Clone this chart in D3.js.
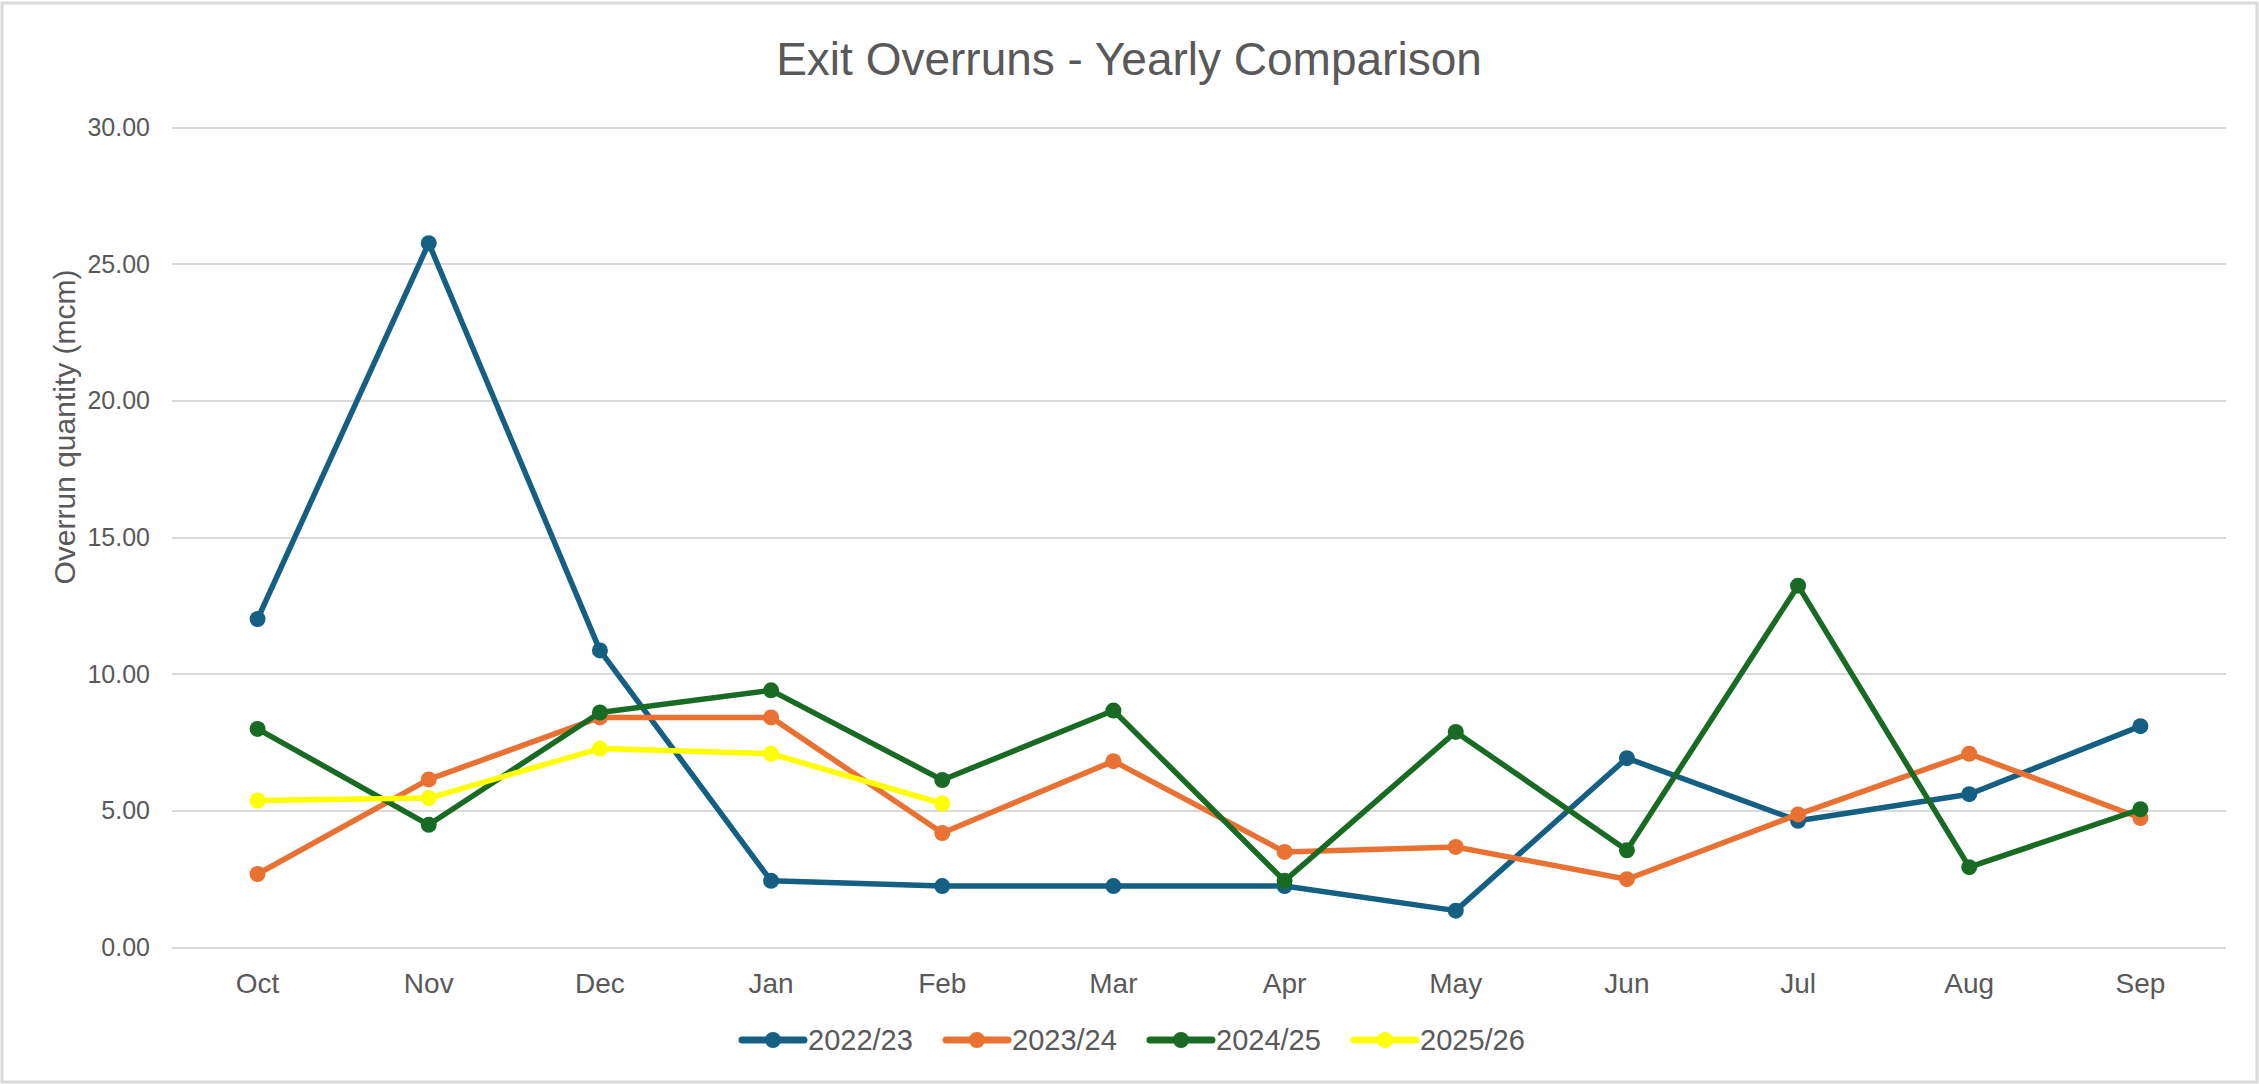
<!DOCTYPE html>
<meta charset="utf-8">
<style>
  body { margin: 0; background: #fff; }
  svg text { fill: #595959; font-family: "Liberation Sans", Arial, sans-serif; }
  .grid line { stroke: #d9d9d9; stroke-width: 2px; shape-rendering: crispEdges; }
  .grid path { stroke-width: 0; }
  .series path { fill: none; stroke-width: 5.5px; stroke-linejoin: round; }
</style>
<body>
<script src="https://d3js.org/d3.v7.min.js"></script>
<div id="chart"></div>
<script>

// months of the gas year
var months = ["Oct", "Nov", "Dec", "Jan", "Feb", "Mar", "Apr", "May", "Jun", "Jul", "Aug", "Sep"];
var yTicks = [0, 5, 10, 15, 20, 25, 30];

var seriesNames = ["2022/23", "2023/24", "2024/25", "2025/26"];
var seriesColors = ["#156082", "#E97132", "#196B24", "#FFFF00"];

// overrun quantity (mcm) per month
var y2022 = [12.00, 25.75, 10.85, 2.42, 2.23, 2.23, 2.23, 1.33, 6.91, 4.62, 5.59, 8.08];
var y2023 = [2.67, 6.13, 8.40, 8.40, 4.17, 6.80, 3.48, 3.66, 2.48, 4.85, 7.07, 4.72];
var y2024 = [7.98, 4.47, 8.58, 9.39, 6.11, 8.65, 2.42, 7.87, 3.54, 13.22, 2.92, 5.04];
var y2025 = [5.36, 5.45, 7.26, 7.07, 5.25];

var seriesValues = [y2022, y2023, y2024, y2025];

var W = 2259, H = 1084;
var plot = {left: 172, right: 2226, top: 127, bottom: 947};

var svg = d3.select("#chart").append("svg")
    .attr("width", W)
    .attr("height", H);

// chart frame
svg.append("rect")
    .attr("x", 2).attr("y", 3)
    .attr("width", W - 4).attr("height", H - 5)
    .attr("fill", "#fff")
    .attr("stroke", "#d9d9d9")
    .attr("stroke-width", 3);

var x = d3.scaleBand().domain(months).range([plot.left, plot.right]);
var y = d3.scaleLinear().domain([0, 30]).range([plot.bottom, plot.top]);

// horizontal gridlines
svg.append("g")
    .attr("class", "grid")
    .attr("transform", "translate(" + plot.left + ",0)")
    .call(d3.axisLeft(y).tickValues(yTicks).tickSize(-(plot.right - plot.left)).tickFormat(""));

// y tick labels
svg.append("g")
  .selectAll("text")
  .data(yTicks)
  .enter()
  .append("text")
    .attr("x", 150)
    .attr("y", function(d) { return y(d); })
    .attr("dy", "0.36em")
    .attr("text-anchor", "end")
    .style("font-size", "25px")
    .text(function(d) { return d3.format(".2f")(d); });

// x labels
svg.append("g")
  .selectAll("text")
  .data(months)
  .enter()
  .append("text")
    .attr("x", function(d) { return x(d) + x.bandwidth() / 2; })
    .attr("y", 993)
    .attr("text-anchor", "middle")
    .style("font-size", "28px")
    .text(function(d) { return d; });

// lines + markers
var line = d3.line()
    .x(function(d, i) { return x(months[i]) + x.bandwidth() / 2; })
    .y(function(d) { return y(d); });

seriesValues.forEach(function(vals, k) {
  var g = svg.append("g").attr("class", "series");
  g.append("path")
      .attr("d", line(vals))
      .attr("stroke", seriesColors[k]);
  g.selectAll("circle")
    .data(vals)
    .enter()
    .append("circle")
      .attr("cx", function(d, i) { return x(months[i]) + x.bandwidth() / 2; })
      .attr("cy", function(d) { return y(d); })
      .attr("r", 8)
      .attr("fill", seriesColors[k]);
});

// title
svg.append("text")
    .attr("x", 1129)
    .attr("y", 75)
    .attr("text-anchor", "middle")
    .style("font-size", "46px")
    .text("Exit Overruns - Yearly Comparison");

// y axis title
svg.append("text")
    .attr("transform", "translate(75,427) rotate(-90)")
    .attr("text-anchor", "middle")
    .style("font-size", "30px")
    .text("Overrun quantity (mcm)");

// legend
var legend = svg.append("g")
    .attr("transform", "translate(742,1040)");

var item = legend.selectAll("g")
    .data(seriesNames)
    .enter()
    .append("g")
      .attr("transform", function(d, i) { return "translate(" + (i * 204) + ",0)"; });

item.append("line")
    .attr("x1", 0).attr("x2", 62)
    .attr("stroke", function(d, i) { return seriesColors[i]; })
    .attr("stroke-width", 7)
    .attr("stroke-linecap", "round");

item.append("circle")
    .attr("cx", 31)
    .attr("r", 8)
    .attr("fill", function(d, i) { return seriesColors[i]; });

item.append("text")
    .attr("x", 66)
    .attr("dy", "0.36em")
    .style("font-size", "29px")
    .text(function(d) { return d; });

</script>
</body>
</html>
